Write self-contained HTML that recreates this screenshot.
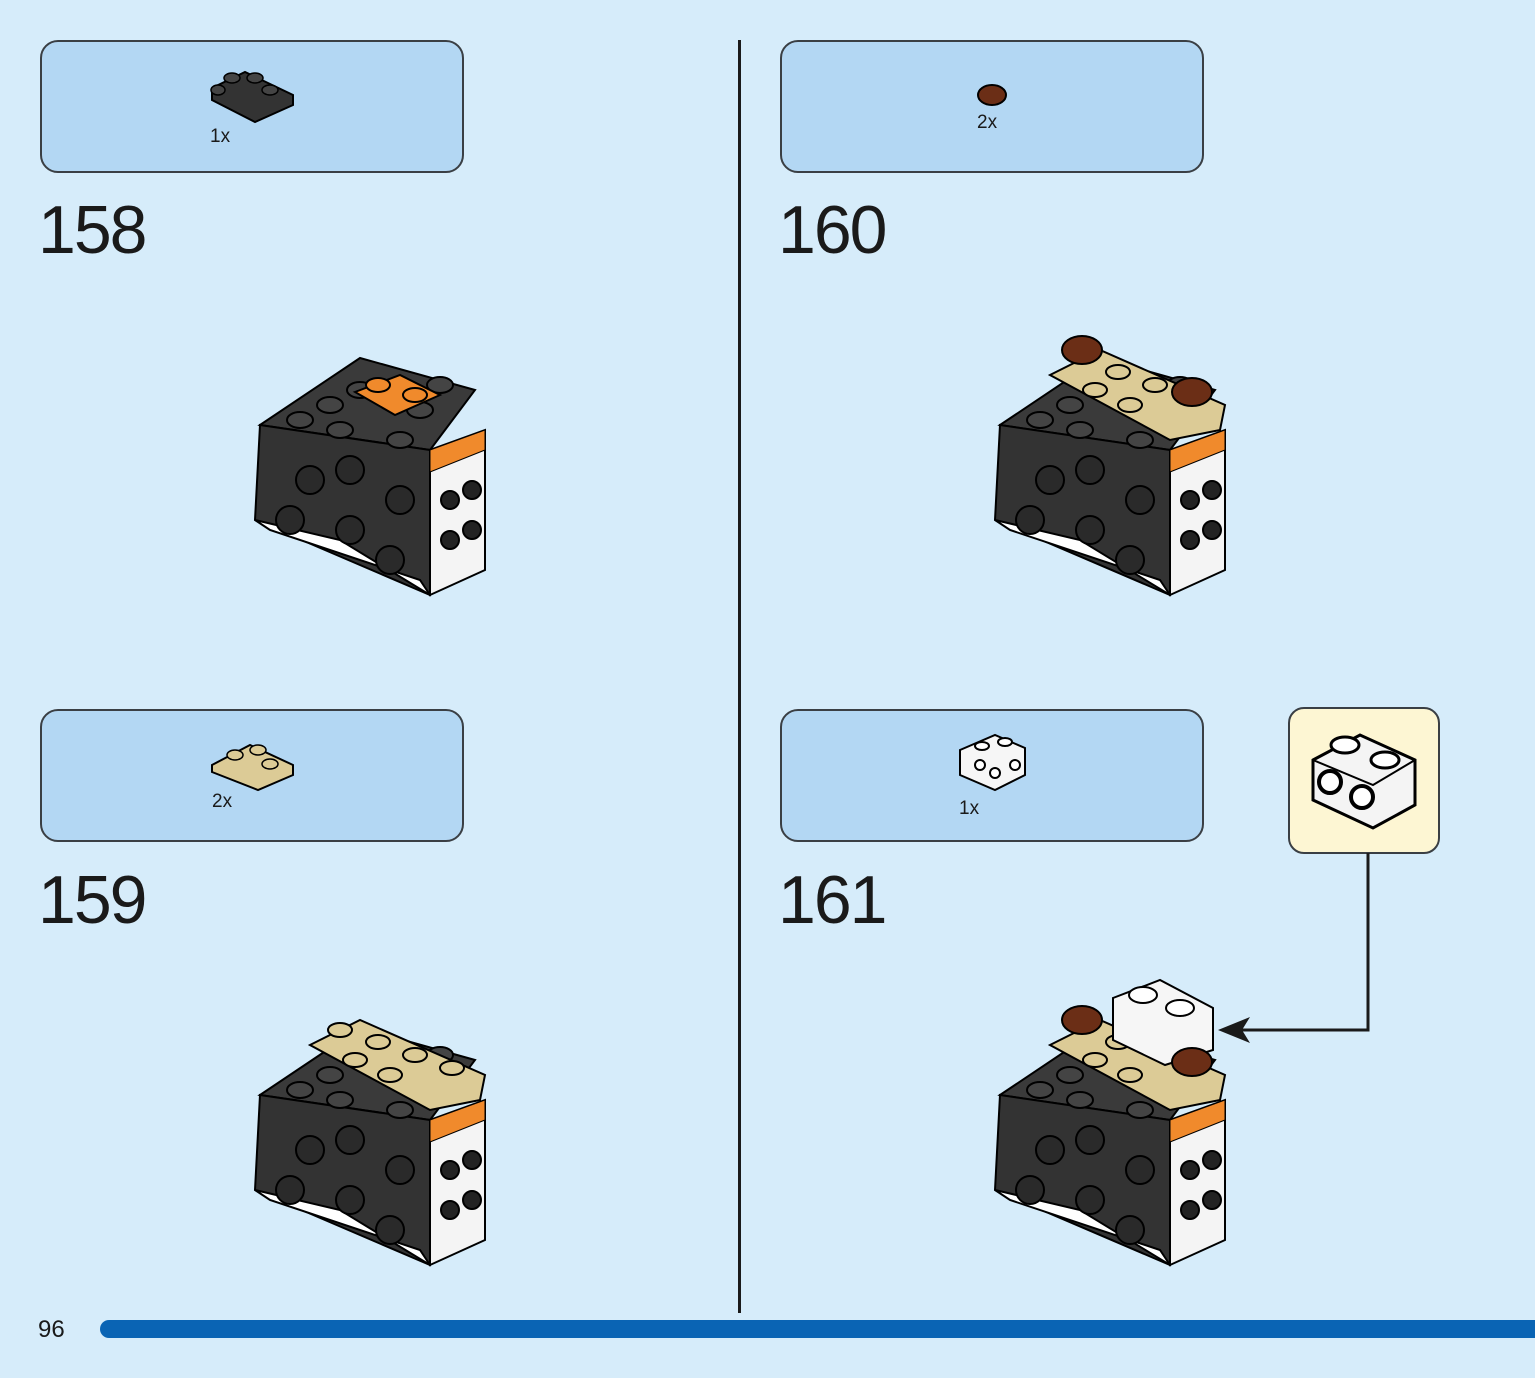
<!DOCTYPE html>
<html><head><meta charset="utf-8"><style>
html,body{margin:0;padding:0}
body{width:1535px;height:1378px;background:#d6ecfa;position:relative;overflow:hidden;font-family:"Liberation Sans",sans-serif}
.box{position:absolute;background:#b3d7f3;border:2px solid #3a3f44;border-radius:18px;box-sizing:border-box}
.num{position:absolute;font-size:68px;color:#1a1a1a;letter-spacing:-2px;line-height:1}
.qty{position:absolute;font-size:19px;color:#1a1a1a}
</style></head><body>
<div class="box" style="left:40px;top:40px;width:424px;height:133px"></div>
<div class="box" style="left:780px;top:40px;width:424px;height:133px"></div>
<div class="box" style="left:40px;top:709px;width:424px;height:133px"></div>
<div class="box" style="left:780px;top:709px;width:424px;height:133px"></div>
<div style="position:absolute;left:1288px;top:707px;width:152px;height:147px;background:#fdf6d3;border:2px solid #3a3f44;border-radius:16px;box-sizing:border-box"></div>
<div style="position:absolute;left:738px;top:40px;width:3px;height:1273px;background:#1a1a1a"></div>
<div style="position:absolute;left:100px;top:1320px;width:1460px;height:18px;background:#0a64b4;border-radius:9px"></div>
<div style="position:absolute;left:38px;top:1316px;font-size:24px;color:#1a1a1a">96</div>
<div class="num" style="left:38px;top:196px">158</div>
<div class="num" style="left:778px;top:196px">160</div>
<div class="num" style="left:38px;top:866px">159</div>
<div class="num" style="left:778px;top:866px">161</div>
<div class="qty" style="left:210px;top:126px">1x</div>
<div class="qty" style="left:977px;top:112px">2x</div>
<div class="qty" style="left:212px;top:791px">2x</div>
<div class="qty" style="left:959px;top:798px">1x</div>
<svg width="1535" height="1378" style="position:absolute;left:0;top:0">
<defs>
<g id="model">
<polygon points="10,75 110,8 225,40 180,100" fill="#3a3a3a" stroke="#000" stroke-width="2"/>
<polygon points="10,75 180,100 180,245 5,170" fill="#333" stroke="#000" stroke-width="2"/>
<polygon points="180,100 235,80 235,220 180,245" fill="#f4f4f4" stroke="#000" stroke-width="2"/>
<polygon points="180,100 235,80 235,100 180,122" fill="#f08a2c" stroke="#000" stroke-width="1"/>
<polygon points="5,170 90,190 180,245 170,230 20,180" fill="#fff" stroke="#000" stroke-width="2"/>
<g fill="#2a2a2a" stroke="#000" stroke-width="2">
<circle cx="60" cy="130" r="14"/><circle cx="100" cy="120" r="14"/><circle cx="150" cy="150" r="14"/>
<circle cx="40" cy="170" r="14"/><circle cx="100" cy="180" r="14"/><circle cx="140" cy="210" r="14"/>
</g>
<g fill="#222" stroke="#000" stroke-width="2">
<circle cx="200" cy="150" r="9"/><circle cx="222" cy="140" r="9"/><circle cx="200" cy="190" r="9"/><circle cx="222" cy="180" r="9"/>
</g>
<g fill="#444" stroke="#000" stroke-width="2">
<ellipse cx="50" cy="70" rx="13" ry="8"/><ellipse cx="80" cy="55" rx="13" ry="8"/><ellipse cx="110" cy="40" rx="13" ry="8"/>
<ellipse cx="90" cy="80" rx="13" ry="8"/><ellipse cx="150" cy="90" rx="13" ry="8"/><ellipse cx="170" cy="60" rx="13" ry="8"/><ellipse cx="190" cy="35" rx="13" ry="8"/>
</g>
</g>
</defs>
<!-- 158 -->
<use href="#model" x="250" y="350"/>
<polygon points="355,392 400,375 440,395 395,415" fill="#f08a2c" stroke="#000" stroke-width="2"/>
<ellipse cx="378" cy="385" rx="12" ry="7" fill="#f08a2c" stroke="#000" stroke-width="2"/>
<ellipse cx="415" cy="395" rx="12" ry="7" fill="#f08a2c" stroke="#000" stroke-width="2"/>
<!-- 159 -->
<use href="#model" x="250" y="1020"/>
<polygon points="310,1045 360,1020 485,1075 480,1100 430,1110" fill="#dccb96" stroke="#000" stroke-width="2"/>
<g fill="#dccb96" stroke="#000" stroke-width="2"><ellipse cx="340" cy="1030" rx="12" ry="7"/><ellipse cx="378" cy="1042" rx="12" ry="7"/><ellipse cx="415" cy="1055" rx="12" ry="7"/><ellipse cx="452" cy="1068" rx="12" ry="7"/><ellipse cx="355" cy="1060" rx="12" ry="7"/><ellipse cx="390" cy="1075" rx="12" ry="7"/></g>
<!-- 160 -->
<use href="#model" x="990" y="350"/>
<polygon points="1050,375 1100,350 1225,405 1220,430 1170,440" fill="#dccb96" stroke="#000" stroke-width="2"/>
<g fill="#dccb96" stroke="#000" stroke-width="2"><ellipse cx="1118" cy="372" rx="12" ry="7"/><ellipse cx="1155" cy="385" rx="12" ry="7"/><ellipse cx="1095" cy="390" rx="12" ry="7"/><ellipse cx="1130" cy="405" rx="12" ry="7"/></g>
<g fill="#6b2e16" stroke="#000" stroke-width="2"><ellipse cx="1082" cy="350" rx="20" ry="14"/><ellipse cx="1192" cy="392" rx="20" ry="14"/></g>
<!-- 161 -->
<use href="#model" x="990" y="1020"/>
<polygon points="1050,1045 1100,1020 1225,1075 1220,1100 1170,1110" fill="#dccb96" stroke="#000" stroke-width="2"/>
<g fill="#dccb96" stroke="#000" stroke-width="2"><ellipse cx="1118" cy="1042" rx="12" ry="7"/><ellipse cx="1095" cy="1060" rx="12" ry="7"/><ellipse cx="1130" cy="1075" rx="12" ry="7"/></g>
<polygon points="1113,998 1160,980 1213,1008 1213,1050 1165,1065 1113,1040" fill="#f6f6f6" stroke="#000" stroke-width="2"/>
<g fill="#fff" stroke="#000" stroke-width="2"><ellipse cx="1143" cy="995" rx="14" ry="8"/><ellipse cx="1180" cy="1008" rx="14" ry="8"/></g>
<g fill="#6b2e16" stroke="#000" stroke-width="2"><ellipse cx="1082" cy="1020" rx="20" ry="14"/><ellipse cx="1192" cy="1062" rx="20" ry="14"/></g>
<!-- arrow -->
<polyline points="1368,853 1368,1030 1240,1030" fill="none" stroke="#1a1a1a" stroke-width="3"/>
<polygon points="1218,1030 1250,1017 1242,1030 1250,1043" fill="#1a1a1a"/>
<!-- callout brick -->
<polygon points="1313,760 1360,735 1415,760 1415,805 1373,828 1313,800" fill="#f4f4f4" stroke="#000" stroke-width="3"/>
<polyline points="1313,760 1373,785 1415,760 M1373,785 1373,828" fill="none" stroke="#000" stroke-width="2"/>
<g fill="#fff" stroke="#000" stroke-width="3"><ellipse cx="1345" cy="745" rx="14" ry="8"/><ellipse cx="1385" cy="760" rx="14" ry="8"/></g>
<g fill="#fff" stroke="#000" stroke-width="4"><circle cx="1330" cy="782" r="11"/><circle cx="1362" cy="797" r="11"/></g>
<!-- part icons -->
<polygon points="212,88 245,72 293,95 293,105 255,122 212,100" fill="#333" stroke="#000" stroke-width="2"/>
<g fill="#444" stroke="#000" stroke-width="1.5"><ellipse cx="232" cy="78" rx="8" ry="5"/><ellipse cx="255" cy="78" rx="8" ry="5"/><ellipse cx="270" cy="90" rx="8" ry="5"/><ellipse cx="218" cy="90" rx="7" ry="5"/></g>
<ellipse cx="992" cy="95" rx="14" ry="10" fill="#6b2e16" stroke="#000" stroke-width="2"/>
<polygon points="212,765 250,745 293,765 293,775 258,790 212,772" fill="#dccb96" stroke="#000" stroke-width="2"/>
<g fill="#dccb96" stroke="#000" stroke-width="1.5"><ellipse cx="235" cy="755" rx="8" ry="5"/><ellipse cx="258" cy="750" rx="8" ry="5"/><ellipse cx="270" cy="764" rx="8" ry="5"/></g>
<polygon points="960,750 995,735 1025,748 1025,775 995,790 960,775" fill="#f6f6f6" stroke="#000" stroke-width="2"/>
<g fill="#fff" stroke="#000" stroke-width="2"><circle cx="980" cy="765" r="5"/><circle cx="995" cy="773" r="5"/><circle cx="1015" cy="765" r="5"/><ellipse cx="982" cy="746" rx="7" ry="4"/><ellipse cx="1005" cy="742" rx="7" ry="4"/></g>
</svg>
</body></html>
